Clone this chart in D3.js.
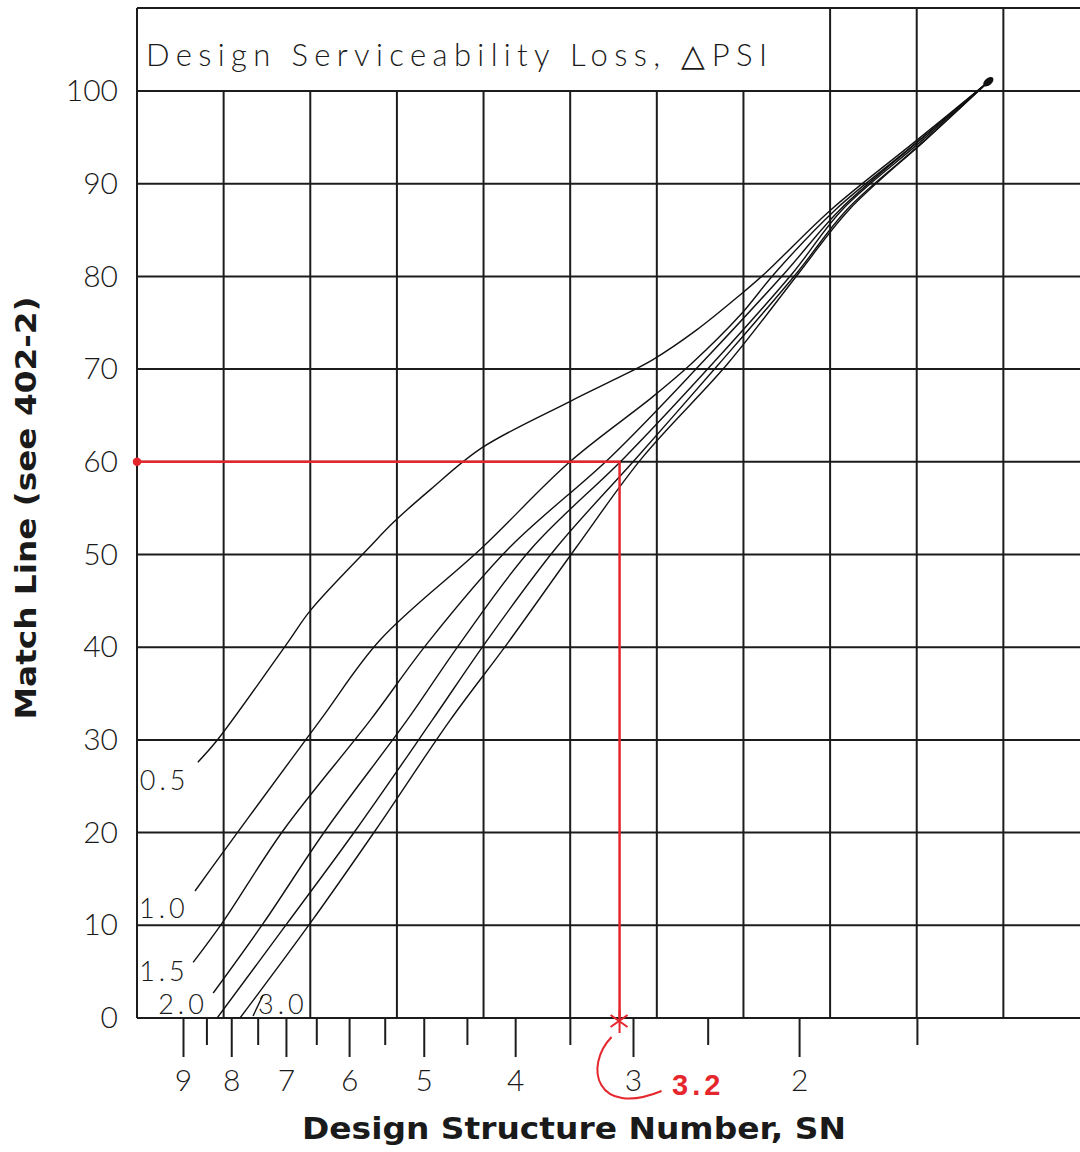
<!DOCTYPE html>
<html>
<head>
<meta charset="utf-8">
<script src="https://cdn.jsdelivr.net/npm/d3@7"></script>
<style>
  body { margin: 0; background: #fff; }
  svg text { font-family: Lato, "Open Sans", sans-serif; font-weight: 300; fill: #1a1a1a; }
  svg text.bold { font-family: "DejaVu Sans", sans-serif; font-weight: bold; fill: #1a1a1a; }
</style>
</head>
<body>
<div id="chart"></div>
<script>
// serviceability loss curves, [SN, match line]
const psiLabels = ["0.5", "1.0", "1.5", "2.0", "2.5", "3.0"];
const curve05 = [[8.68,27.6],[8.26,30.1],[6.97,40.5],[6.59,44.0],[5.72,50.7],[5.38,53.5],[4.92,57.0],[4.34,61.5],[3.50,66.5],[3.15,68.8],[2.86,71.0],[2.57,74.2],[2.31,78.0],[2.17,80.4],[1.85,87.2],[1.50,94.7],[1.26,101.0]];
const curve10 = [[8.74,13.7],[8.16,17.9],[7.70,21.4],[6.44,32.1],[5.56,40.8],[4.34,50.7],[3.50,60.0],[2.86,67.0],[2.60,70.6],[2.31,75.8],[2.12,80.4],[1.83,87.2],[1.49,94.7],[1.26,101.0]];
const curve15 = [[8.78,6.0],[8.16,10.4],[7.05,20.2],[5.70,32.1],[4.95,40.5],[4.06,50.7],[3.17,60.5],[2.54,70.6],[2.07,80.4],[1.81,87.2],[1.49,94.7],[1.26,101.0]];
const curve20 = [[8.36,2.7],[7.40,10.2],[6.36,20.2],[5.21,32.1],[4.57,40.5],[3.84,50.7],[3.06,60.5],[2.47,70.6],[2.03,80.4],[1.80,87.2],[1.48,94.7],[1.26,101.0]];
const curve25 = [[8.28,0],[6.98,10.2],[5.91,20.2],[4.90,32.1],[4.30,40.5],[3.62,50.7],[2.97,60.5],[2.43,70.6],[2.01,80.4],[1.78,87.2],[1.47,94.7],[1.26,101.0]];
const curve30 = [[7.83,0],[6.60,10.2],[5.63,20.2],[4.69,32.1],[4.07,40.5],[3.45,50.7],[2.93,60.5],[2.38,70.6],[2.00,80.4],[1.77,87.2],[1.47,94.7],[1.26,101.0]];
const snMajor = [2, 3, 4, 5, 6, 7, 8, 9];
const snMinor = [1.5, 2.5, 3.5, 4.5, 5.5, 6.5, 7.5, 8.5];
const matchTicks = [0, 10, 20, 30, 40, 50, 60, 70, 80, 90, 100];
const matchRead = 60;   // red construction line
const snRead = 3.1;     // where it meets the SN scale
const snNote = "3.2";

const series = [curve05, curve10, curve15, curve20, curve25, curve30];

const w = 1080, h = 1152, topY = 8;
const svg = d3.select("#chart").append("svg")
  .attr("width", w).attr("height", h)
  .attr("xmlns", "http://www.w3.org/2000/svg");

const x = d3.scaleLog().domain([9, 1]).range([183, 1083]);
const y = d3.scaleLinear().domain([0, 100]).range([1018, 91]);
const gx = d3.scaleLinear().domain([0, 11]).range([137, 1090]); // uniform grid columns
const titleCols = 8;
const ink = "#1c1c1c", red = "#e5262d";

// grid
const grid = svg.append("g").attr("stroke", ink).attr("stroke-width", 2);
grid.selectAll("line.h").data(matchTicks.slice(1)).join("line")
  .attr("x1", gx(0)).attr("x2", w)
  .attr("y1", d => y(d)).attr("y2", d => y(d));
grid.selectAll("line.v").data(d3.range(1, 11)).join("line")
  .attr("x1", d => gx(d)).attr("x2", d => gx(d))
  .attr("y1", y(0)).attr("y2", d => d >= titleCols ? topY : y(100));
grid.append("line").attr("x1", gx(0)).attr("x2", w).attr("y1", topY).attr("y2", topY);
grid.append("line").attr("x1", gx(0)).attr("x2", gx(0)).attr("y1", topY).attr("y2", y(0));
grid.append("line").attr("x1", gx(0)).attr("x2", w).attr("y1", y(0)).attr("y2", y(0));

// title in the box
svg.append("text")
  .attr("x", 146).attr("y", 66)
  .attr("font-size", 31)
  .attr("textLength", 621).attr("lengthAdjust", "spacing")
  .text("Design Serviceability Loss, \u25B3PSI");

// y axis
svg.append("g")
  .attr("transform", `translate(${gx(0)},0)`)
  .call(d3.axisLeft(y).tickValues(matchTicks).tickSize(0).tickPadding(19).tickFormat(d3.format("d")))
  .call(g => g.select(".domain").remove())
  .call(g => g.selectAll("text").attr("font-size", 30).attr("font-family", null));

// x axis, SN on a log scale
svg.append("g")
  .attr("transform", `translate(0,${y(0)})`)
  .call(d3.axisBottom(x).tickValues(snMajor).tickSize(39).tickPadding(13).tickFormat(d3.format("d")))
  .call(g => g.select(".domain").remove())
  .call(g => g.selectAll("line").attr("stroke", ink).attr("stroke-width", 2))
  .call(g => g.selectAll("text").attr("font-size", 30).attr("font-family", null));
svg.append("g")
  .attr("transform", `translate(0,${y(0)})`)
  .call(d3.axisBottom(x).tickValues(snMinor).tickSize(27).tickFormat(""))
  .call(g => g.select(".domain").remove())
  .call(g => g.selectAll("line").attr("stroke", ink).attr("stroke-width", 2));

// axis titles
svg.append("text").attr("class", "bold")
  .attr("transform", "translate(36,508) rotate(-90)")
  .attr("text-anchor", "middle").attr("font-size", 28)
  .attr("textLength", 423).attr("lengthAdjust", "spacingAndGlyphs")
  .text("Match Line (see 402-2)");
svg.append("text").attr("class", "bold")
  .attr("x", 574).attr("y", 1139)
  .attr("text-anchor", "middle").attr("font-size", 31)
  .attr("textLength", 544).attr("lengthAdjust", "spacingAndGlyphs")
  .text("Design Structure Number, SN");

// curves
const line = d3.line()
  .x(d => x(d[0])).y(d => y(d[1]))
  .curve(d3.curveCatmullRom.alpha(0.5));
svg.selectAll("path.psi").data(series).join("path")
  .attr("class", "psi")
  .attr("d", line)
  .attr("fill", "none").attr("stroke", "#111").attr("stroke-width", 1.4);
const tip = curve05[curve05.length - 1];
svg.append("ellipse")
  .attr("transform", `translate(${x(tip[0])},${y(tip[1])}) rotate(-40)`)
  .attr("rx", 6).attr("ry", 3.5).attr("fill", "#111");

// curve labels, placed from each curve's lower end
const labelOffset = { "0.5": [-58, 28], "1.0": [-56, 27], "1.5": [-54, 19], "2.0": [-55, 21], "3.0": [18, -4] };
psiLabels.forEach((lab, i) => {
  const off = labelOffset[lab];
  if (!off) return;
  const p = series[i][0];
  svg.append("text")
    .attr("x", x(p[0]) + off[0]).attr("y", y(p[1]) + off[1])
    .attr("font-size", 27).attr("letter-spacing", 4)
    .text(lab);
});
// small leader in front of 3.0
const p30 = curve30[0];
svg.append("line")
  .attr("x1", x(p30[0]) + 13).attr("y1", y(p30[1]) - 2)
  .attr("x2", x(p30[0]) + 23).attr("y2", y(p30[1]) - 23)
  .attr("stroke", "#111").attr("stroke-width", 1.4);

// red construction
const rx = x(snRead), ry = y(matchRead), by = y(0);
const r = svg.append("g").attr("stroke", red).attr("fill", "none").attr("stroke-width", 2.5);
r.append("path").attr("d", `M${gx(0)},${ry}H${rx}V${by}`);
r.append("circle").attr("cx", gx(0)).attr("cy", ry).attr("r", 3).attr("fill", red);
r.append("path").attr("stroke-width", 2)
  .attr("d", `M${rx},${by - 8}V${by + 15}M${rx - 9},${by - 3}L${rx + 8},${by + 9}M${rx - 9},${by + 9}L${rx + 8},${by - 3}`);
r.append("path").attr("stroke-width", 2)
  .attr("d", `M${rx - 8},${by + 19}C${rx - 36},${by + 48} ${rx - 24},${by + 100} ${rx + 42},${by + 73}`);
svg.append("text")
  .attr("x", 672).attr("y", 1095)
  .style("font-family", "'Liberation Sans', sans-serif").style("font-weight", "bold")
  .style("font-size", "29px").style("letter-spacing", "4px")
  .style("fill", red)
  .text(snNote);
</script>
</body>
</html>
